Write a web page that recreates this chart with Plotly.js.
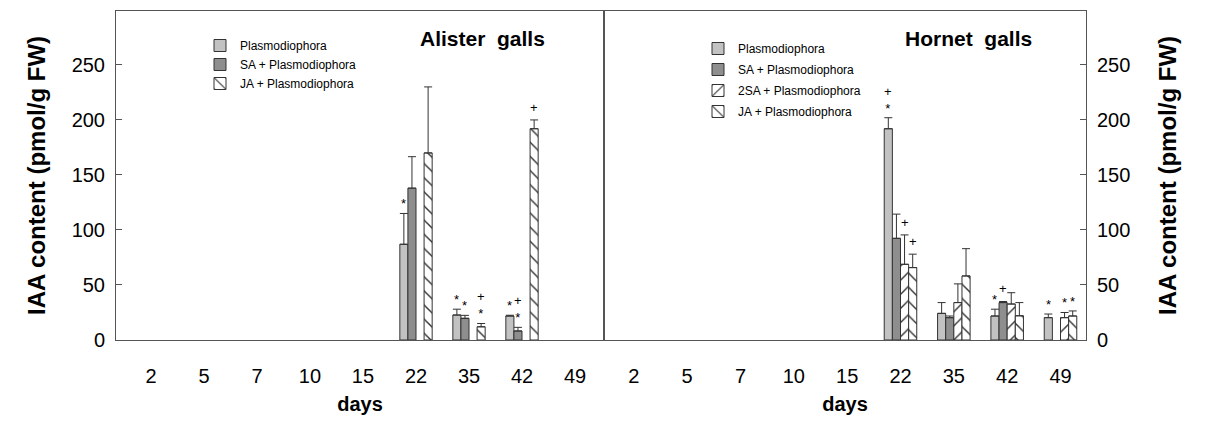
<!DOCTYPE html>
<html>
<head>
<meta charset="utf-8">
<script src="https://cdn.plot.ly/plotly-3.0.1.min.js"></script>
<style>html,body{margin:0;padding:0;background:#fff;}#chart{width:1209px;height:427px;}</style>
</head>
<body>
<div id="chart"></div>
<script>
// ---------- data ----------
const days = ['2', '5', '7', '10', '15', '22', '35', '42', '49'];
const yTicks = [0, 50, 100, 150, 200, 250];

const seriesNames = ['Plasmodiophora', 'SA + Plasmodiophora', '2SA + Plasmodiophora', 'JA + Plasmodiophora'];

// Alister galls (no 2SA treatment)
const alisterPlasm    = [null, null, null, null, null, 87, 22.7, 21.8, null];
const alisterPlasmErr = [0, 0, 0, 0, 0, 28, 5.3, 0.7, 0];
const alisterSA       = [null, null, null, null, null, 138, 19.7, 8.2, null];
const alisterSAErr    = [0, 0, 0, 0, 0, 28.6, 2.7, 3.3, 0];
const alister2SA      = [null, null, null, null, null, null, null, null, null];
const alister2SAErr   = [0, 0, 0, 0, 0, 0, 0, 0, 0];
const alisterJA       = [null, null, null, null, null, 170, 12, 192, null];
const alisterJAErr    = [0, 0, 0, 0, 0, 60, 3, 8, 0];

// Hornet galls
const hornetPlasm    = [null, null, null, null, null, 192, 24.2, 21.8, 20.3];
const hornetPlasmErr = [0, 0, 0, 0, 0, 10, 9.8, 6.2, 3.3];
const hornetSA       = [null, null, null, null, null, 92.4, 20.3, 34, null];
const hornetSAErr    = [0, 0, 0, 0, 0, 22, 1.5, 1, 0];
const hornet2SA      = [null, null, null, null, null, 68.8, 34, 32.7, 20.3];
const hornet2SAErr   = [0, 0, 0, 0, 0, 26.7, 17, 10.3, 4.7];
const hornetJA       = [null, null, null, null, null, 65.8, 58.2, 22, 21.8];
const hornetJAErr    = [0, 0, 0, 0, 0, 12.2, 24.8, 12, 4.6];

// significance marks (* / +) above bars
const alisterPlasmSig = ['', '', '', '', '', '*', '*', '*', ''];
const alisterSASig    = ['', '', '', '', '', '', '*', '+<br>*', ''];
const alister2SASig   = ['', '', '', '', '', '', '', '', ''];
const alisterJASig    = ['', '', '', '', '', '', '+<br>*', '+', ''];
const hornetPlasmSig  = ['', '', '', '', '', '+<br>*', '', '*', '*'];
const hornetSASig     = ['', '', '', '', '', '', '', '+', ''];
const hornet2SASig    = ['', '', '', '', '', '+', '', '', '*'];
const hornetJASig     = ['', '', '', '', '', '+', '', '', '*'];

// ---------- styles ----------
const W = 1209, H = 427;
const FONT = 'Liberation Sans, Arial, Helvetica, sans-serif';
const lineCol = '#555';
const barLine = '#333';
const styles = [
  {color: '#c2c2c2'},
  {color: '#8e8e8e'},
  {color: '#ffffff', pattern: {shape: '/', fgcolor: '#333', bgcolor: '#ffffff', size: 10, solidity: 0.14}},
  {color: '#ffffff', pattern: {shape: '\\', fgcolor: '#333', bgcolor: '#ffffff', size: 10, solidity: 0.14}}
];
const bargap = 0.39;

const leftDom = [116 / W, 604 / W];
const rightDom = [604 / W, 1086 / W];
const yDom = [(H - 340) / H, (H - 11) / H];
const leftRange = [-0.66, 8.547];
const rightRange = [-0.559, 8.478];
const yRange = [0, 299];

const panels = [
  {
    xa: 'x', ya: 'y', legend: 'legend', dom: leftDom, range: leftRange,
    vals: [alisterPlasm, alisterSA, alister2SA, alisterJA],
    errs: [alisterPlasmErr, alisterSAErr, alister2SAErr, alisterJAErr],
    sigs: [alisterPlasmSig, alisterSASig, alister2SASig, alisterJASig],
    show: [true, true, false, true]
  },
  {
    xa: 'x2', ya: 'y2', legend: 'legend2', dom: rightDom, range: rightRange,
    vals: [hornetPlasm, hornetSA, hornet2SA, hornetJA],
    errs: [hornetPlasmErr, hornetSAErr, hornet2SAErr, hornetJAErr],
    sigs: [hornetPlasmSig, hornetSASig, hornet2SASig, hornetJASig],
    show: [true, true, true, true]
  }
];

const traces = [];
const annotations = [];
panels.forEach((p, pi) => {
  const pxPerCat = (p.dom[1] - p.dom[0]) * W / (p.range[1] - p.range[0]);
  const bw = pxPerCat * (1 - bargap) / 4;
  p.vals.forEach((v, k) => {
    const st = styles[k];
    const marker = {color: st.color, line: {color: barLine, width: 1}};
    if (st.pattern) marker.pattern = st.pattern;
    traces.push({
      type: 'bar', x: days, y: v, name: seriesNames[k],
      xaxis: p.xa, yaxis: p.ya, legend: p.legend,
      legendgroup: 'p' + pi + 's' + k,
      showlegend: p.show[k],
      marker: marker,
      error_y: {type: 'data', array: p.errs[k], symmetric: false,
                arrayminus: p.errs[k].map(() => 0),
                color: '#333', thickness: 1, width: 4},
      hoverinfo: 'x+y+name'
    });
    p.sigs[k].forEach((s, i) => {
      if (!s || v[i] == null) return;
      annotations.push({
        xref: p.xa, yref: p.ya, x: i, y: v[i] + p.errs[k][i],
        xshift: (k - 1.5) * bw, yshift: s === '+' ? 3 : 0,
        text: s, showarrow: false, xanchor: 'center', yanchor: 'bottom',
        font: {size: 13, color: '#000', family: FONT}
      });
    });
  });
});

annotations.push({
  xref: 'paper', yref: 'paper', x: 482 / W, y: 1 - 39 / H,
  text: '<b>Alister\u00a0 galls</b>', showarrow: false,
  xanchor: 'center', yanchor: 'middle', font: {size: 21, color: '#000', family: FONT}
});
annotations.push({
  xref: 'paper', yref: 'paper', x: 968 / W, y: 1 - 39 / H,
  text: '<b>Hornet\u00a0 galls</b>', showarrow: false,
  xanchor: 'center', yanchor: 'middle', font: {size: 21, color: '#000', family: FONT}
});

function xAxis(dom, range, anchor) {
  return {
    domain: dom, anchor: anchor, type: 'category', range: range,
    showline: true, mirror: true, linecolor: lineCol, linewidth: 1,
    ticks: '', showgrid: false, zeroline: false,
    tickfont: {size: 20, color: '#000'}, ticklabelstandoff: 18,
    title: {text: '<b>days</b>', font: {size: 20, color: '#000'}, standoff: 10},
    fixedrange: true
  };
}
function yAxis(anchor, side, standoff) {
  return {
    domain: yDom, anchor: anchor, side: side, range: yRange,
    tickvals: yTicks, ticks: 'inside', ticklen: 6, tickcolor: lineCol,
    showline: true, mirror: true, linecolor: lineCol, linewidth: 1,
    showgrid: false, zeroline: false,
    tickfont: {size: 20, color: '#000'}, ticklabelstandoff: 6,
    title: {text: '<b>IAA content (pmol/g FW)</b>', font: {size: 24, color: '#000'}, standoff: standoff},
    fixedrange: true
  };
}

const layout = {
  width: W, height: H,
  margin: {l: 0, r: 0, t: 0, b: 0},
  paper_bgcolor: '#fff', plot_bgcolor: '#fff',
  font: {family: FONT, color: '#000'},
  barmode: 'group', bargap: bargap, bargroupgap: 0,
  xaxis: xAxis(leftDom, leftRange, 'y'),
  yaxis: yAxis('x', 'left', 19),
  xaxis2: xAxis(rightDom, rightRange, 'y2'),
  yaxis2: yAxis('x2', 'right', 29),
  legend: {x: 200 / W, y: 1 - 31 / H, xanchor: 'left', yanchor: 'top',
           bgcolor: 'rgba(0,0,0,0)', font: {size: 12, color: '#000'},
           tracegroupgap: 0, itemwidth: 30},
  legend2: {x: 698 / W, y: 1 - 34 / H, xanchor: 'left', yanchor: 'top',
            bgcolor: 'rgba(0,0,0,0)', font: {size: 12, color: '#000'},
            tracegroupgap: 2, itemwidth: 30},
  annotations: annotations,
  showlegend: true
};

Plotly.newPlot('chart', traces, layout, {displayModeBar: false, staticPlot: true});
</script>
</body>
</html>
